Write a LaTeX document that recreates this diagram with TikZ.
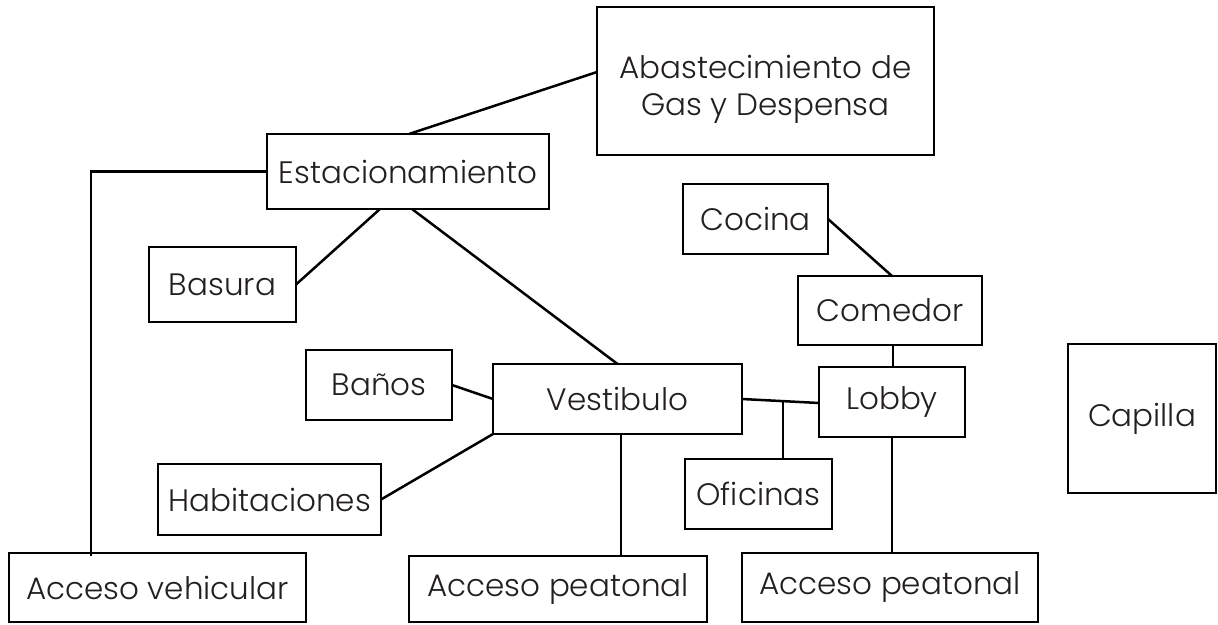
\documentclass[tikz,border=0pt]{standalone}
\usepackage{fontspec}
\setmainfont{Poppins}[UprightFont={* Light}]
\usetikzlibrary{calc}
\definecolor{txt}{HTML}{231F20}
\tikzset{
  box/.style={draw=black, line width=2.5pt, rectangle, inner sep=0pt, outer sep=0pt,
    text=txt, font=\fontsize{31}{37}\selectfont, align=center},
  link/.style={draw=black, line width=2.5pt}
}
\begin{document}
\begin{tikzpicture}[x=1pt,y=-1pt]
\useasboundingbox (0,0) rectangle (1218,624);
\node[box, minimum width=337pt, minimum height=148pt] (abast) at (765.5,81) {\rule{0pt}{40pt}Abastecimiento de\\Gas y Despensa};
\node[box, minimum width=282pt, minimum height=75pt] (estac) at (408,171.5) {Estacionamiento};
\node[box, minimum width=147pt, minimum height=75pt] (basura) at (222.5,284.5) {Basura};
\node[box, minimum width=146pt, minimum height=70pt] (banos) at (379,385) {Baños};
\node[box, minimum width=249pt, minimum height=70pt] (vest) at (617.5,399) {Vestibulo};
\node[box, minimum width=223pt, minimum height=71pt] (habit) at (269.5,499.5) {Habitaciones};
\node[box, minimum width=145pt, minimum height=70pt] (cocina) at (755.5,219) {Cocina};
\node[box, minimum width=184pt, minimum height=69pt] (comedor) at (890,310.5) {Comedor};
\node[box, minimum width=146pt, minimum height=70pt] (lobby) at (892,402) {Lobby};
\node[box, minimum width=147pt, minimum height=70pt] (ofic) at (758.5,494) {Oficinas};
\node[box, minimum width=148pt, minimum height=149pt] (capilla) at (1142,418.5) {Capilla};
\node[box, minimum width=297pt, minimum height=69pt] (accveh) at (157.5,587.5) {Acceso vehicular};
\node[box, minimum width=298pt, minimum height=66pt] (accpea1) at (558,589) {Acceso peatonal};
\node[box, minimum width=296pt, minimum height=69pt] (accpea2) at (890,587.5) {Acceso peatonal};

\draw[link] ([xshift=1pt]estac.north) -- ([yshift=9pt]abast.west);
\draw[link] (estac.west) -| ([xshift=-66.5pt,yshift=-3pt]accveh.north);
\draw[link] (basura.east) -- ([xshift=-28pt]estac.south);
\draw[link] ([xshift=4pt]estac.south) -- (vest.north);
\draw[link] (banos.east) -- (vest.west);
\draw[link] (habit.east) -- (vest.south west);
\draw[link] ([xshift=3.5pt]vest.south) -- ([xshift=3.5pt]vest.south |- accpea1.north);
\draw[link] (vest.east) -- ([yshift=-1pt]lobby.west);
\coordinate (j) at ($(vest.east)!0.532!([yshift=-1pt]lobby.west)$);
\draw[link] (j) -- (j |- ofic.north);
\draw[link] (cocina.east) -- ([xshift=2pt]comedor.north);
\draw[link] ([xshift=3pt]comedor.south) -- ([xshift=3pt]comedor.south |- lobby.north);
\draw[link] (lobby.south) -- (lobby.south |- accpea2.north);
\end{tikzpicture}
\end{document}
